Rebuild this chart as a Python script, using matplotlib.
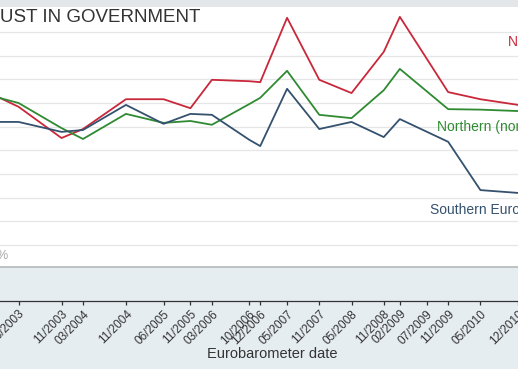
import matplotlib
matplotlib.use("Agg")
import matplotlib.pyplot as plt
from matplotlib.patches import Rectangle

plt.rcParams['font.family'] = ['Liberation Sans', 'DejaVu Sans']

# ---- data (trust in government, %) ----
dates = ["10/2002", "03/2003", "11/2003", "03/2004", "11/2004", "06/2005", "11/2005",
         "03/2006", "10/2006", "12/2006", "05/2007", "11/2007", "05/2008", "11/2008",
         "02/2009", "11/2009", "05/2010", "12/2010"]
nordic = [41.9, 39.2, 32.6, 34.5, 40.8, 40.8, 38.9, 44.9, 44.6, 44.4, 58.0, 44.9,
          42.1, 50.8, 58.2, 42.3, 40.8, 39.6]
northern = [41.5, 40.0, 34.7, 32.4, 37.7, 35.8, 36.2, 35.4, 39.8, 41.1, 46.8, 37.5,
            36.8, 42.7, 47.2, 38.7, 38.6, 38.3]
southern = [36.0, 36.0, 33.9, 34.3, 39.6, 35.6, 37.7, 37.5, 32.2, 30.9, 43.0, 34.5,
            36.0, 32.8, 36.6, 31.8, 21.6, 21.0]
tick_labels = ["03/2003", "11/2003", "03/2004", "11/2004", "06/2005", "11/2005",
               "03/2006", "10/2006", "12/2006", "05/2007", "11/2007", "05/2008",
               "11/2008", "02/2009", "07/2009", "11/2009", "05/2010", "12/2010"]
series_names = ["Nordic countries", "Northern (non-Nordic)", "Southern Europe"]
title = "TRUST IN GOVERNMENT"
xlabel = "Eurobarometer date"


def month_index(s):
    m, y = s.split("/")
    return (int(y) - 2003) * 12 + (int(m) - 1)


W, H = 518, 369
fig = plt.figure(figsize=(W / 100, H / 100), dpi=100)
fig.patch.set_facecolor("#e6edf1")

# top grey band
fig.patches.append(Rectangle((0, 1 - 7 / H), 1, 7 / H, transform=fig.transFigure,
                             facecolor="#e4e7e9", edgecolor="none", zorder=0))

top_px, bot_px = 7, 267
ax = fig.add_axes([0, 1 - bot_px / H, 1, (bot_px - top_px) / H])
ax.set_facecolor("white")

# x scale: 5.5 px per month, 11/2003 at px 63
px_per_m = 5.5
x0 = month_index("11/2003") - 63 / px_per_m
ax.set_xlim(x0, x0 + W / px_per_m)
# y scale: 5-pt gridlines at px 245 (10) ... 32 (55)
ppv = (245 - 32) / 45
ax.set_ylim(10 - (bot_px - 245) / ppv, 10 + (245 - top_px) / ppv)

xs = [month_index(d) for d in dates]
colors = ["#c9273a", "#2f8a32", "#34516e"]
for vals, c in zip([nordic, northern, southern], colors):
    ax.plot(xs, vals, color=c, lw=1.3, zorder=3, clip_on=False)

ax.set_yticks(range(10, 60, 5))
ax.yaxis.grid(True, color="#e6e6e6", lw=0.9)
ax.tick_params(axis="y", left=False, labelleft=False)
for s in ["top", "left", "right"]:
    ax.spines[s].set_visible(False)
ax.axhline(ax.get_ylim()[0], color="#b5b9bb", lw=1.2, zorder=1, clip_on=False)

ax.spines["bottom"].set_position(("outward", 24.5))
ax.spines["bottom"].set_color("#333333")
ax.spines["bottom"].set_linewidth(0.9)
ax.set_xticks([month_index(t) for t in tick_labels])
ax.set_xticklabels(tick_labels, rotation=45, ha="right", rotation_mode="anchor",
                   fontsize=8.5, color="#333333")
ax.tick_params(axis="x", direction="out", length=3, width=0.9, color="#333333", pad=2)

# series labels
ax.text(508 / W, 1 - (42 - top_px) / (bot_px - top_px), series_names[0],
        transform=ax.transAxes, color=colors[0], fontsize=10, va="center", ha="left")
ax.text(437 / W, 1 - (127 - top_px) / (bot_px - top_px), series_names[1],
        transform=ax.transAxes, color=colors[1], fontsize=10, va="center", ha="left")
ax.text(430 / W, 1 - (210 - top_px) / (bot_px - top_px), series_names[2],
        transform=ax.transAxes, color=colors[2], fontsize=10, va="center", ha="left")

fig.text(200 / W, 1 - 17 / H, title, ha="right", va="center", fontsize=13.5, color="#333333")
fig.text(9 / W, 1 - 256 / H, "0%", ha="right", va="center", fontsize=9, color="#a8a8a8")
fig.text(272 / W, 1 - 354 / H, xlabel, ha="center", va="center", fontsize=10.5, color="#333333")

fig.savefig("out.png", dpi=100, facecolor=fig.get_facecolor())
